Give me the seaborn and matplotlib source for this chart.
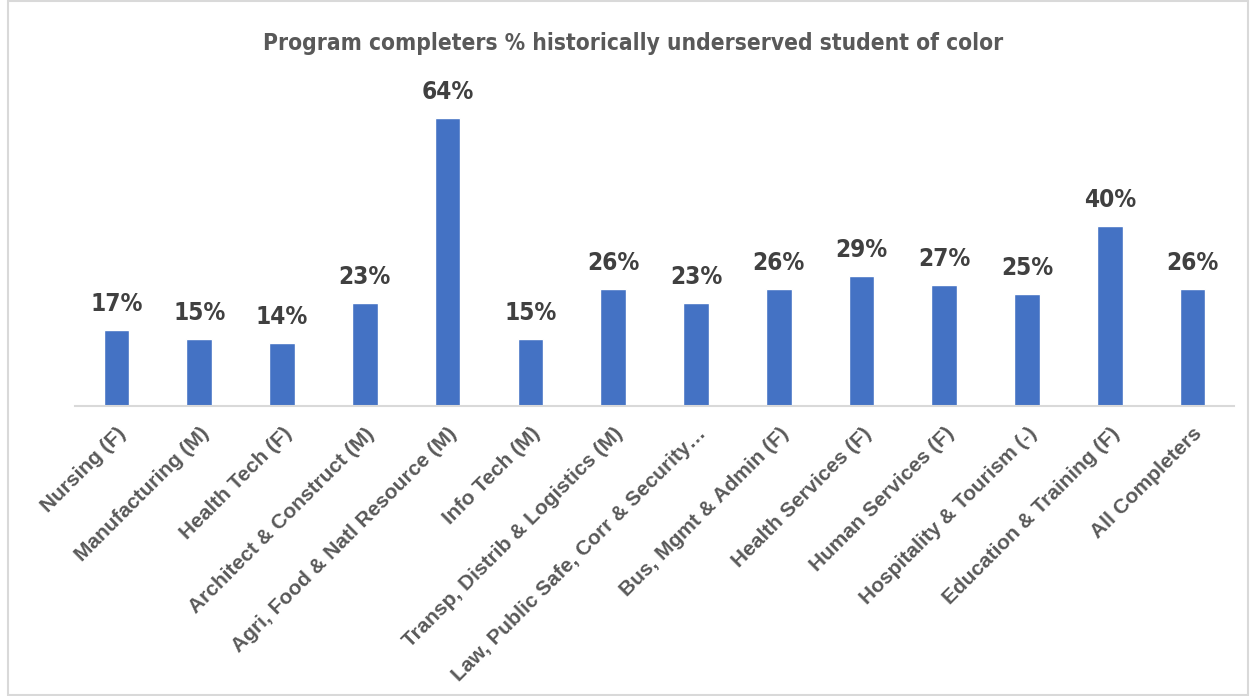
import matplotlib
matplotlib.use("Agg")
import matplotlib.pyplot as plt
import seaborn as sns
import pandas as pd
from matplotlib.patches import Rectangle

categories = ["Nursing (F)", "Manufacturing (M)", "Health Tech (F)", "Architect & Construct (M)",
              "Agri, Food & Natl Resource (M)", "Info Tech (M)", "Transp, Distrib & Logistics (M)",
              "Law, Public Safe, Corr & Security…", "Bus, Mgmt & Admin (F)", "Health Services (F)",
              "Human Services (F)", "Hospitality & Tourism (-)", "Education & Training (F)", "All Completers"]
values = [0.17, 0.15, 0.14, 0.23, 0.64, 0.15, 0.26, 0.23, 0.26, 0.29, 0.27, 0.25, 0.40, 0.26]
title = "Program completers % historically underserved student of color"

sns.set_theme(style="white")
plt.rcParams['font.family'] = ['DejaVu Sans']

df = pd.DataFrame({"cat": categories, "val": values})

fig = plt.figure(figsize=(12.54, 6.96), dpi=100)
ax = fig.add_axes([0.0598, 0.4167, 0.9243, 0.4823])
sns.barplot(data=df, x="cat", y="val", color="#4472C4", width=0.31, ax=ax, saturation=1)
ax.set_ylim(0, 0.747)
ax.set_xlim(-0.5, len(categories) - 0.5)
ax.set_xlabel("")
ax.set_ylabel("")
ax.set_yticks([])
for s in ["top", "right", "left"]:
    ax.spines[s].set_visible(False)
ax.spines["bottom"].set_color("#D9D9D9")
ax.spines["bottom"].set_linewidth(1.5)
ax.tick_params(axis="x", length=0, pad=13)
ax.set_xticks(range(len(categories)))
ax.set_xticklabels(categories, rotation=45, ha="right", rotation_mode="anchor",
                   fontsize=15, fontweight="bold", color="#595959",
                   family=['Liberation Sans', 'DejaVu Sans'])

for i, v in enumerate(values):
    ax.annotate(f"{round(v*100)}%", (i, v), xytext=(0, 10), textcoords="offset points",
                ha="center", va="bottom", fontsize=17.5, fontweight="bold", color="#404040",
                fontstretch="condensed")

fig.text(0.505, 0.937, title, ha="center", va="center", fontsize=16.3, fontweight="bold",
         color="#595959", fontstretch="condensed")

fig.patches.append(Rectangle((0.006, 0.002), 0.989, 0.996, transform=fig.transFigure,
                             fill=False, edgecolor="#D9D9D9", linewidth=1.5))

fig.savefig("out.png", dpi=100)
